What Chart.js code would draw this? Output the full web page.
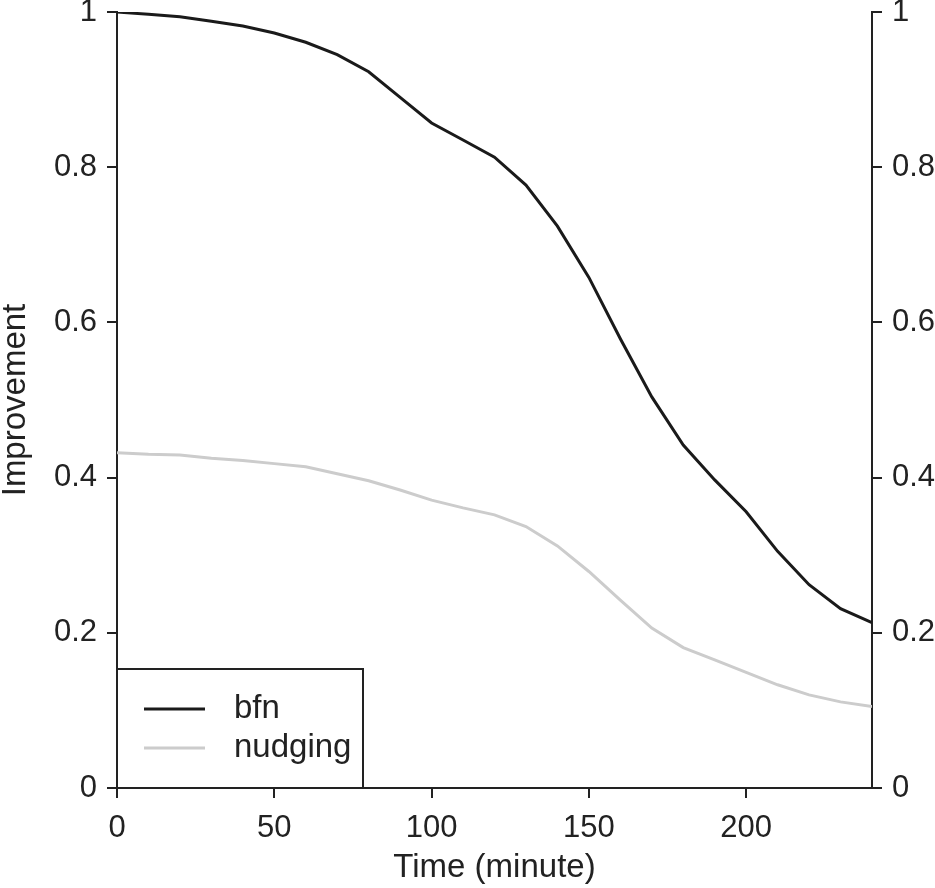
<!DOCTYPE html>
<html>
<head>
<meta charset="utf-8">
<script src="https://cdn.jsdelivr.net/npm/chart.js@4.4.1/dist/chart.umd.min.js"></script>
<style>
  body { margin: 0; background: #fff; }
  #wrap { width: 935px; height: 888px; }
</style>
</head>
<body>
<div id="wrap"><canvas id="improvementChart"></canvas></div>
<script>
// time in minutes
const times = [0, 10, 20, 30, 40, 50, 60, 70, 80, 90, 100, 110, 120,
  130, 140, 150, 160, 170, 180, 190, 200, 210, 220, 230, 240];
const bfn = [1.0, 0.997, 0.994, 0.988, 0.982, 0.973, 0.961, 0.945, 0.923, 0.890, 0.857, 0.835, 0.813,
  0.777, 0.724, 0.658, 0.579, 0.504, 0.442, 0.397, 0.356, 0.305, 0.262, 0.231, 0.213];
const nudging = [0.432, 0.430, 0.429, 0.425, 0.422, 0.418, 0.414, 0.405, 0.396, 0.384, 0.371, 0.361, 0.352,
  0.337, 0.312, 0.279, 0.242, 0.206, 0.181, 0.165, 0.149, 0.133, 0.120, 0.111, 0.105];
const xTicks = [0, 50, 100, 150, 200];
const yTicks = [0, 0.2, 0.4, 0.6, 0.8, 1];

const axisColor = '#222';
const family = '"Liberation Sans", Arial, sans-serif';
const tickFont = { family: family, size: 31 };
const titleFont = { family: family, size: 33 };

// legend box drawn inside the plot, bottom-left
const boxLegend = {
    id: 'boxLegend',
    afterDatasetsDraw(chart) {
        const ctx = chart.ctx;
        const area = chart.chartArea;
        const w = 246, h = 119;
        const x0 = area.left, y0 = area.bottom - h;
        ctx.save();
        ctx.fillStyle = '#fff';
        ctx.fillRect(x0, y0, w, h);
        ctx.strokeStyle = axisColor;
        ctx.lineWidth = 2;
        ctx.strokeRect(x0, y0, w, h);
        ctx.font = titleFont.size + 'px ' + family;
        ctx.textBaseline = 'middle';
        chart.data.datasets.forEach((ds, i) => {
            const y = y0 + 40 + i * 39;
            ctx.strokeStyle = ds.borderColor;
            ctx.lineWidth = 3;
            ctx.beginPath();
            ctx.moveTo(x0 + 27, y);
            ctx.lineTo(x0 + 88, y);
            ctx.stroke();
            ctx.fillStyle = axisColor;
            ctx.fillText(ds.label, x0 + 117, y);
        });
        ctx.restore();
    }
};

function yAxis(position, width) {
    return {
        type: 'linear',
        position: position,
        min: 0,
        max: 1,
        afterBuildTicks: scale => { scale.ticks = yTicks.map(v => ({ value: v })); },
        afterFit: scale => {
            scale.width = width;
            scale.paddingTop = 0;
            scale.paddingBottom = 0;
        },
        border: { display: true, color: axisColor, width: 2 },
        grid: { display: true, drawOnChartArea: false, drawTicks: true, tickLength: 10, color: axisColor, lineWidth: 2 },
        ticks: { color: axisColor, font: tickFont, padding: 10, callback: v => String(v) },
        title: {
            display: position === 'left',
            text: 'Improvement',
            color: axisColor,
            font: { family: family, size: 33, lineHeight: 0.85 },
            padding: { top: 2, bottom: 0 }
        }
    };
}

new Chart(document.getElementById('improvementChart'), {
    type: 'line',
    data: {
        datasets: [
            {
                label: 'bfn',
                data: times.map((t, i) => ({ x: t, y: bfn[i] })),
                borderColor: '#1a1a1a',
                borderWidth: 3,
                pointRadius: 0,
                tension: 0
            },
            {
                label: 'nudging',
                data: times.map((t, i) => ({ x: t, y: nudging[i] })),
                borderColor: '#cccccc',
                borderWidth: 3,
                pointRadius: 0,
                tension: 0
            }
        ]
    },
    options: {
        responsive: true,
        maintainAspectRatio: false,
        animation: false,
        layout: { padding: { top: 12, left: 0, right: 0, bottom: 0 } },
        scales: {
            x: {
                type: 'linear',
                min: 0,
                max: 240,
                afterBuildTicks: scale => { scale.ticks = xTicks.map(v => ({ value: v })); },
                afterFit: scale => {
                    scale.height = 100;
                    scale.paddingLeft = 0;
                    scale.paddingRight = 0;
                },
                border: { display: true, color: axisColor, width: 2 },
                grid: { display: true, drawOnChartArea: false, drawTicks: true, tickLength: 10, color: axisColor, lineWidth: 2 },
                ticks: { color: axisColor, font: tickFont, padding: 12, maxRotation: 0 },
                title: {
                    display: true,
                    text: 'Time (minute)',
                    color: axisColor,
                    font: titleFont,
                    padding: { top: 0, bottom: 0 }
                }
            },
            y: yAxis('left', 117),
            y2: yAxis('right', 63)
        },
        plugins: {
            legend: { display: false },
            tooltip: { enabled: false }
        }
    },
    plugins: [boxLegend]
});
</script>
</body>
</html>
